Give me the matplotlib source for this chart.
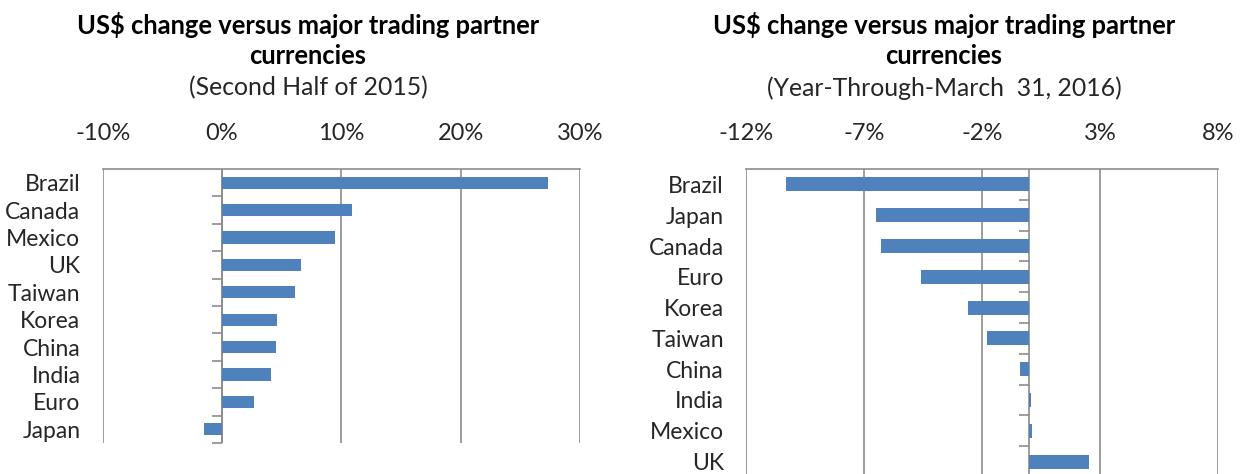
import matplotlib
matplotlib.use("Agg")
import matplotlib.pyplot as plt
from matplotlib.ticker import FuncFormatter, FixedLocator
from matplotlib.markers import TICKLEFT

plt.rcParams['font.family'] = ['Lato', 'DejaVu Sans']

# Left chart data: Second Half of 2015
left_categories = ["Brazil", "Canada", "Mexico", "UK", "Taiwan", "Korea", "China", "India", "Euro", "Japan"]
left_values = [27.3, 10.9, 9.5, 6.6, 6.1, 4.6, 4.5, 4.1, 2.7, -1.5]
left_ticks = [-10, 0, 10, 20, 30]

# Right chart data: Year-Through-March 31, 2016
right_categories = ["Brazil", "Japan", "Canada", "Euro", "Korea", "Taiwan", "China", "India", "Mexico", "UK"]
right_values = [-10.3, -6.5, -6.3, -4.6, -2.6, -1.8, -0.4, 0.06, 0.12, 2.55]
right_ticks = [-12, -7, -2, 3, 8]

title_main = ["US$ change versus major trading partner", "currencies"]
left_sub = "(Second Half of 2015)"
right_sub = "(Year-Through-March  31, 2016)"

BAR = "#4F81BD"
GRID = "#8C8C8C"
TXT = "#262626"
FS = 17

W, H = 1244, 474
fig = plt.figure(figsize=(W / 100, H / 100), dpi=100)


def panel(rect, cats, vals, ticks):
    ax = fig.add_axes(rect)
    n = len(cats)
    ypos = list(range(n))
    ax.barh(ypos, vals, height=0.45, color=BAR, zorder=3)
    ax.set_xlim(ticks[0], ticks[-1])
    ax.set_ylim(n - 0.5, -0.5)
    ax.set_yticks(ypos)
    ax.set_yticklabels(cats, fontsize=16.5, color=TXT)
    ax.tick_params(axis='y', length=0, pad=16)
    ax.xaxis.set_major_locator(FixedLocator(ticks))
    ax.xaxis.set_major_formatter(FuncFormatter(lambda v, p: f"{int(round(v))}%"))
    ax.xaxis.tick_top()
    ax.tick_params(axis='x', length=0, pad=18, labelsize=FS, labelcolor=TXT)
    ax.grid(axis='x', color=GRID, linewidth=1.2, zorder=1)
    for s in ['left', 'right', 'bottom']:
        ax.spines[s].set_visible(False)
    ax.spines['top'].set_color(GRID)
    ax.spines['top'].set_linewidth(1.2)
    # category axis at zero with tick marks between categories
    ax.axvline(0, color=GRID, linewidth=1.2, zorder=2)
    bounds = [i + 0.5 for i in range(n)]
    ax.plot([0] * n, bounds, linestyle='none', marker=TICKLEFT,
            markersize=7, markeredgewidth=1.2, color=GRID, zorder=4,
            clip_on=False)
    ax.set_facecolor('none')
    return ax


axL = panel([102.7 / W, 1 - 443 / H, (580 - 102.7) / W, (443 - 169) / H],
            left_categories, left_values, left_ticks)
axR = panel([746 / W, 1 - 477 / H, (1218 - 746) / W, (477 - 169) / H],
            right_categories, right_values, right_ticks)

for cx, sub in [(308, left_sub), (944, right_sub)]:
    fig.text(cx / W, 1 - 25 / H, title_main[0], ha='center', va='center',
             fontsize=18.4, fontweight='bold', color='black')
    fig.text(cx / W, 1 - 56 / H, title_main[1], ha='center', va='center',
             fontsize=18.4, fontweight='bold', color='black')
    fig.text(cx / W, 1 - 88 / H, sub, ha='center', va='center',
             fontsize=17.8, color=TXT)

fig.savefig("out.png", dpi=100, facecolor='white')
